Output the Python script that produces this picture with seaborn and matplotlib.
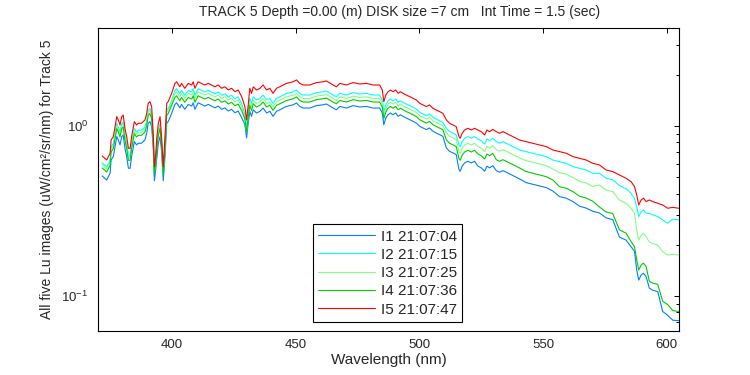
import numpy as np
import pandas as pd
import seaborn as sns
import matplotlib

matplotlib.use('Agg')
import matplotlib.pyplot as plt
from matplotlib.ticker import LogLocator, MultipleLocator, NullFormatter, NullLocator

wavelength = [
    371.7, 373.5, 374.9, 375.3, 376.2, 377.6, 378.2, 378.9, 379.6, 380.2,
    380.9, 381.6, 382.3, 383.0, 383.6, 384.7, 385.6, 386.3, 387.6, 389.0,
    389.7, 390.3, 391.0, 391.7, 392.4, 392.8, 393.3, 393.7, 394.4, 395.1,
    395.7, 396.4, 397.1, 397.8, 398.4, 399.8, 401.1, 401.8, 403.1, 403.8,
    405.1, 406.5, 407.9, 408.5, 409.2, 410.5, 411.9, 413.2, 414.6, 415.9,
    417.3, 418.6, 420.0, 421.3, 422.7, 424.0, 425.4, 426.7, 428.1, 429.4,
    430.1, 430.7, 431.4, 432.1, 432.8, 434.1, 435.5, 436.8, 438.2, 439.5,
    440.8, 442.2, 443.5, 446.2, 448.9, 450.3, 451.6, 453.0, 455.7, 458.4,
    461.0, 462.4, 465.1, 466.4, 467.8, 470.5, 473.2, 475.9, 478.6, 481.2,
    483.9, 485.0, 485.6, 486.4, 487.3, 488.3, 489.3, 490.4, 491.4, 492.3,
    493.4, 494.7, 496.1, 497.4, 498.8, 500.1, 501.5, 502.8, 504.1, 505.5,
    506.8, 508.2, 509.5, 510.9, 512.2, 513.6, 514.9, 516.0, 516.5, 517.3,
    518.3, 519.6, 521.0, 522.3, 523.7, 525.0, 526.4, 527.3, 528.4, 529.7,
    531.1, 532.4, 533.8, 535.1, 536.5, 537.8, 539.2, 540.5, 543.2, 545.9,
    548.6, 551.3, 554.0, 556.7, 559.4, 562.1, 564.8, 567.4, 570.1, 572.8,
    575.5, 578.2, 580.9, 583.6, 585.6, 587.0, 587.9, 588.7, 589.7, 590.6,
    591.7, 593.0, 594.4, 596.4, 598.4, 600.4, 602.5, 604.9]

lu_i1 = [
    0.508, 0.481, 0.527, 0.631, 0.661, 0.866, 0.828, 0.774, 0.866, 0.885,
    0.739, 0.661, 0.564, 0.564, 0.661, 0.809, 0.774, 0.791, 0.791, 0.828,
    0.906, 1.038, 1.061, 0.992, 0.716, 0.476, 0.546, 0.631, 0.791, 0.866,
    0.716, 0.476, 0.661, 1.038, 1.061, 1.187, 1.339, 1.369, 1.278, 1.339,
    1.253, 1.339, 1.310, 1.369, 1.253, 1.369, 1.339, 1.310, 1.339, 1.310,
    1.278, 1.310, 1.253, 1.278, 1.224, 1.253, 1.196, 1.224, 1.119, 1.019,
    0.851, 1.019, 1.220, 1.139, 1.244, 1.192, 1.220, 1.275, 1.192, 1.220,
    1.139, 1.220, 1.244, 1.303, 1.332, 1.365, 1.303, 1.275, 1.275, 1.318,
    1.332, 1.347, 1.275, 1.244, 1.303, 1.275, 1.318, 1.293, 1.303, 1.275,
    1.275, 1.192, 1.017, 1.113, 1.164, 1.192, 1.164, 1.192, 1.139, 1.164,
    1.139, 1.113, 1.089, 1.065, 1.039, 0.996, 0.973, 0.952, 0.973, 0.930,
    0.909, 0.889, 0.869, 0.742, 0.709, 0.694, 0.678, 0.554, 0.541, 0.580,
    0.606, 0.620, 0.606, 0.620, 0.580, 0.567, 0.542, 0.580, 0.567, 0.584,
    0.546, 0.535, 0.546, 0.535, 0.522, 0.511, 0.499, 0.488, 0.464, 0.454,
    0.444, 0.434, 0.414, 0.384, 0.376, 0.359, 0.337, 0.329, 0.315, 0.308,
    0.288, 0.281, 0.222, 0.213, 0.195, 0.183, 0.142, 0.124, 0.133, 0.136,
    0.130, 0.111, 0.108, 0.106, 0.081, 0.077, 0.072, 0.0715]

lu_i2 = [
    0.606, 0.574, 0.629, 0.753, 0.788, 1.033, 0.987, 0.923, 1.033, 1.056,
    0.882, 0.788, 0.672, 0.672, 0.788, 0.965, 0.923, 0.944, 0.944, 0.987,
    1.080, 1.238, 1.265, 1.183, 0.810, 0.539, 0.617, 0.753, 0.944, 1.033,
    0.810, 0.539, 0.788, 1.238, 1.265, 1.416, 1.620, 1.656, 1.547, 1.620,
    1.516, 1.620, 1.585, 1.656, 1.516, 1.656, 1.620, 1.585, 1.620, 1.585,
    1.547, 1.585, 1.516, 1.547, 1.481, 1.516, 1.447, 1.481, 1.354, 1.166,
    0.973, 1.166, 1.454, 1.358, 1.484, 1.421, 1.454, 1.521, 1.421, 1.454,
    1.358, 1.454, 1.484, 1.554, 1.589, 1.628, 1.554, 1.521, 1.521, 1.571,
    1.589, 1.606, 1.521, 1.484, 1.554, 1.521, 1.571, 1.542, 1.554, 1.521,
    1.521, 1.421, 1.213, 1.327, 1.407, 1.441, 1.407, 1.441, 1.377, 1.407,
    1.377, 1.345, 1.317, 1.288, 1.257, 1.204, 1.176, 1.151, 1.176, 1.124,
    1.099, 1.074, 1.050, 0.970, 0.927, 0.907, 0.886, 0.774, 0.756, 0.810,
    0.847, 0.866, 0.847, 0.866, 0.838, 0.820, 0.783, 0.838, 0.820, 0.845,
    0.808, 0.791, 0.808, 0.791, 0.773, 0.756, 0.739, 0.722, 0.706, 0.691,
    0.675, 0.660, 0.630, 0.616, 0.603, 0.576, 0.563, 0.551, 0.526, 0.527,
    0.493, 0.482, 0.447, 0.427, 0.402, 0.375, 0.335, 0.293, 0.313, 0.321,
    0.306, 0.306, 0.300, 0.293, 0.280, 0.268, 0.283, 0.280]

lu_i3 = [
    0.589, 0.558, 0.612, 0.732, 0.766, 1.004, 0.960, 0.897, 1.004, 1.027,
    0.858, 0.766, 0.654, 0.654, 0.766, 0.938, 0.897, 0.918, 0.918, 0.960,
    1.050, 1.204, 1.230, 1.151, 0.798, 0.531, 0.609, 0.732, 0.918, 1.004,
    0.798, 0.531, 0.766, 1.204, 1.230, 1.377, 1.554, 1.589, 1.484, 1.554,
    1.454, 1.554, 1.521, 1.589, 1.454, 1.589, 1.554, 1.521, 1.554, 1.521,
    1.484, 1.521, 1.454, 1.484, 1.421, 1.454, 1.388, 1.421, 1.299, 1.105,
    0.922, 1.105, 1.388, 1.296, 1.416, 1.356, 1.388, 1.451, 1.356, 1.388,
    1.296, 1.388, 1.416, 1.483, 1.516, 1.554, 1.483, 1.451, 1.451, 1.499,
    1.516, 1.533, 1.451, 1.416, 1.483, 1.451, 1.499, 1.471, 1.483, 1.451,
    1.451, 1.356, 1.158, 1.266, 1.344, 1.376, 1.344, 1.376, 1.315, 1.344,
    1.315, 1.284, 1.257, 1.229, 1.200, 1.149, 1.123, 1.099, 1.123, 1.073,
    1.049, 1.026, 1.003, 0.910, 0.870, 0.851, 0.831, 0.707, 0.690, 0.739,
    0.773, 0.791, 0.773, 0.791, 0.758, 0.741, 0.708, 0.758, 0.741, 0.764,
    0.726, 0.710, 0.726, 0.710, 0.694, 0.679, 0.663, 0.648, 0.625, 0.611,
    0.598, 0.584, 0.558, 0.531, 0.520, 0.496, 0.472, 0.462, 0.441, 0.450,
    0.420, 0.411, 0.367, 0.351, 0.328, 0.307, 0.244, 0.213, 0.228, 0.234,
    0.223, 0.208, 0.203, 0.199, 0.182, 0.174, 0.176, 0.174]

lu_i4 = [
    0.566, 0.536, 0.587, 0.703, 0.736, 0.965, 0.922, 0.862, 0.965, 0.986,
    0.824, 0.736, 0.628, 0.628, 0.736, 0.901, 0.862, 0.881, 0.881, 0.922,
    1.009, 1.156, 1.182, 1.105, 0.777, 0.517, 0.592, 0.703, 0.881, 0.965,
    0.777, 0.517, 0.736, 1.156, 1.182, 1.323, 1.472, 1.505, 1.406, 1.472,
    1.378, 1.472, 1.441, 1.505, 1.378, 1.505, 1.472, 1.441, 1.472, 1.441,
    1.406, 1.441, 1.378, 1.406, 1.346, 1.378, 1.315, 1.346, 1.231, 1.105,
    0.922, 1.105, 1.323, 1.235, 1.350, 1.293, 1.323, 1.383, 1.293, 1.323,
    1.235, 1.323, 1.350, 1.413, 1.445, 1.481, 1.413, 1.383, 1.383, 1.429,
    1.445, 1.461, 1.383, 1.350, 1.413, 1.383, 1.429, 1.402, 1.413, 1.383,
    1.383, 1.293, 1.104, 1.207, 1.272, 1.302, 1.272, 1.302, 1.245, 1.272,
    1.245, 1.216, 1.190, 1.164, 1.136, 1.088, 1.063, 1.040, 1.063, 1.016,
    0.994, 0.971, 0.950, 0.828, 0.791, 0.774, 0.756, 0.643, 0.628, 0.672,
    0.703, 0.719, 0.703, 0.719, 0.684, 0.669, 0.639, 0.684, 0.669, 0.690,
    0.633, 0.620, 0.633, 0.620, 0.605, 0.592, 0.579, 0.566, 0.539, 0.527,
    0.515, 0.503, 0.481, 0.439, 0.430, 0.411, 0.386, 0.377, 0.361, 0.334,
    0.312, 0.305, 0.245, 0.234, 0.209, 0.195, 0.163, 0.142, 0.152, 0.156,
    0.149, 0.122, 0.119, 0.117, 0.093, 0.089, 0.082, 0.081]

lu_i5 = [
    0.666, 0.631, 0.691, 0.827, 0.866, 1.135, 1.085, 1.014, 1.135, 1.160,
    0.969, 0.866, 0.739, 0.739, 0.866, 1.060, 1.014, 1.037, 1.037, 1.085,
    1.187, 1.360, 1.390, 1.300, 0.866, 0.576, 0.660, 0.827, 1.037, 1.135,
    0.866, 0.576, 0.866, 1.360, 1.390, 1.556, 1.780, 1.820, 1.700, 1.780,
    1.666, 1.780, 1.742, 1.820, 1.666, 1.820, 1.780, 1.742, 1.780, 1.742,
    1.700, 1.742, 1.666, 1.700, 1.628, 1.666, 1.590, 1.628, 1.488, 1.300,
    1.085, 1.300, 1.666, 1.556, 1.700, 1.628, 1.666, 1.742, 1.628, 1.666,
    1.556, 1.666, 1.700, 1.780, 1.820, 1.865, 1.780, 1.742, 1.742, 1.800,
    1.820, 1.840, 1.742, 1.700, 1.780, 1.742, 1.800, 1.766, 1.780, 1.742,
    1.742, 1.628, 1.390, 1.520, 1.590, 1.628, 1.590, 1.628, 1.556, 1.590,
    1.556, 1.520, 1.488, 1.455, 1.420, 1.360, 1.329, 1.300, 1.329, 1.270,
    1.242, 1.214, 1.187, 1.085, 1.037, 1.014, 0.991, 0.866, 0.846, 0.906,
    0.947, 0.969, 0.947, 0.969, 0.947, 0.926, 0.885, 0.947, 0.926, 0.955,
    0.926, 0.906, 0.926, 0.906, 0.885, 0.866, 0.846, 0.827, 0.809, 0.791,
    0.773, 0.756, 0.722, 0.706, 0.691, 0.660, 0.645, 0.631, 0.603, 0.590,
    0.551, 0.539, 0.515, 0.492, 0.471, 0.440, 0.393, 0.343, 0.367, 0.376,
    0.359, 0.367, 0.359, 0.351, 0.343, 0.328, 0.332, 0.328]

image_labels = ['I1 21:07:04', 'I2 21:07:15', 'I3 21:07:25', 'I4 21:07:36', 'I5 21:07:47']
line_colors = ['#0080ff', '#00ffff', '#80ff80', '#00cc00', '#ff0000']

frames = []
for lab, vals in zip(image_labels, [lu_i1, lu_i2, lu_i3, lu_i4, lu_i5]):
    frames.append(pd.DataFrame({'wl': wavelength, 'lu': vals, 'img': lab}))
df = pd.concat(frames, ignore_index=True)

sns.set_style('white')
plt.rcParams['font.family'] = ['Liberation Sans', 'DejaVu Sans']
plt.rcParams['mathtext.default'] = 'regular'

fig = plt.figure(figsize=(7.5, 3.75), dpi=100)
ax = fig.add_axes([98 / 750, 44 / 375, 581 / 750, 303 / 375])

sns.lineplot(data=df, x='wl', y='lu', hue='img', palette=line_colors,
             linewidth=0.8, sort=False, estimator=None, ax=ax)

ax.set_yscale('log')
ax.set_xlim(370, 605)
ax.set_ylim(0.0622, 3.77)

ax.xaxis.set_major_locator(MultipleLocator(50))
ax.xaxis.set_minor_locator(NullLocator())
ax.yaxis.set_major_locator(LogLocator(base=10, numticks=10))
ax.yaxis.set_minor_locator(LogLocator(base=10, subs=np.arange(2, 10), numticks=20))
ax.yaxis.set_minor_formatter(NullFormatter())
ax.tick_params(which='both', direction='in', top=True, right=True,
               labelsize=9.5, width=0.7, color='black')
ax.tick_params(which='major', length=3.5)
ax.tick_params(which='minor', length=2.5)
ax.tick_params(axis='x', pad=5.5)
ax.tick_params(axis='y', pad=7)
for sp in ax.spines.values():
    sp.set_color('black')
    sp.set_linewidth(0.8)

ax.set_xlabel('Wavelength (nm)', fontsize=11, labelpad=2)
ax.set_ylabel('All five Lu images (uW/cm²/sr/nm) for Track 5', fontsize=10, labelpad=5)
fig.text(400 / 750, 1 - 12 / 375, 'TRACK 5 Depth =0.00 (m) DISK size =7 cm   Int Time = 1.5 (sec)',
         ha='center', va='center', fontsize=10)

handles, labels = ax.get_legend_handles_labels()
leg = ax.legend(handles, labels, loc='lower left', bbox_to_anchor=(0.370, 0.0297),
                borderaxespad=0, fontsize=11, handlelength=3.7, handletextpad=0.4,
                labelspacing=0.28, borderpad=0.35, fancybox=False, framealpha=1,
                edgecolor='black')
leg.get_frame().set_linewidth(0.8)

fig.savefig('out.png', dpi=100, facecolor='white')
